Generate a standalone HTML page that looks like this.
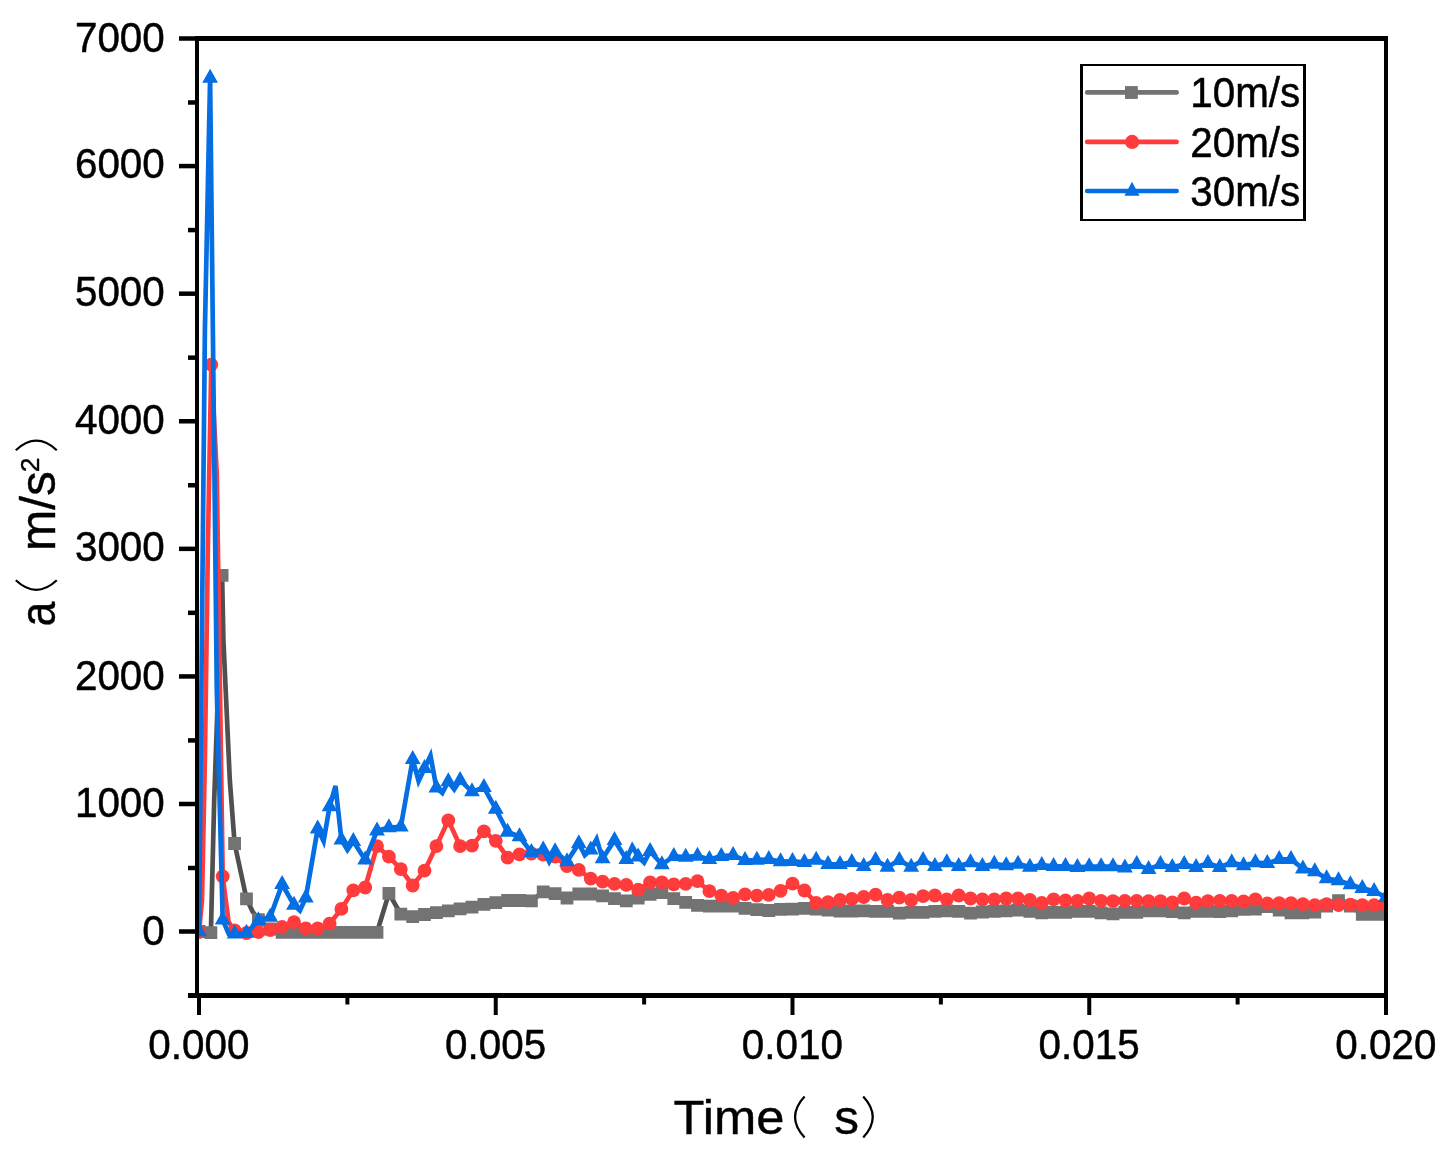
<!DOCTYPE html>
<html><head><meta charset="utf-8"><title>chart</title>
<style>html,body{margin:0;padding:0;background:#fff;}body{width:1455px;height:1157px;overflow:hidden;position:relative;font-family:"Liberation Sans",sans-serif;}svg{position:absolute;left:0;top:0;will-change:transform}</style>
</head><body>
<svg width="1455" height="1157" viewBox="0 0 1455 1157" style="display:block">
<rect x="0" y="0" width="1455" height="1157" fill="#ffffff"/>
<defs><clipPath id="plotclip"><rect x="197.2" y="38.4" width="1188.8" height="957.1"/></clipPath></defs>
<g clip-path="url(#plotclip)">
<polyline fill="none" stroke="#505050" stroke-width="4.7" stroke-linejoin="miter" points="199.0,931.5 210.9,932.6 214.2,800.0 222.1,575.3 223.4,640.0 229.8,780.0 234.6,843.5 246.5,898.8 252.6,911.5 258.4,919.6 270.2,929.0 282.1,932.4 294.0,932.4 305.8,932.4 317.7,932.4 329.6,932.4 341.4,932.4 353.3,932.4 365.2,932.4 377.0,932.4 388.9,893.4 400.8,914.2 412.7,916.7 424.5,914.5 436.4,912.6 448.3,910.9 460.1,908.8 472.0,907.2 483.9,904.4 495.8,902.6 507.6,900.5 519.5,900.5 531.4,900.9 543.2,891.8 555.1,893.6 567.0,898.0 578.8,894.0 590.7,894.0 602.6,895.8 614.5,898.7 626.3,900.9 638.2,898.0 650.1,894.3 661.9,892.7 673.8,898.7 685.7,902.4 697.5,905.3 709.4,906.1 721.3,906.1 733.1,906.1 745.0,908.3 756.9,909.7 768.8,910.5 780.6,909.4 792.5,909.1 804.4,908.4 816.2,909.0 828.1,910.2 840.0,911.2 851.8,911.0 863.7,910.9 875.6,911.4 887.5,911.4 899.3,913.2 911.2,912.4 923.1,912.4 934.9,911.4 946.8,910.9 958.7,911.4 970.5,913.2 982.4,912.0 994.3,911.4 1006.2,910.9 1018.0,910.1 1029.9,911.4 1041.8,912.9 1053.6,912.4 1065.5,912.4 1077.4,911.4 1089.2,911.4 1101.1,912.9 1113.0,913.9 1124.9,912.4 1136.7,912.4 1148.6,910.9 1160.5,910.9 1172.3,911.7 1184.2,912.9 1196.1,911.4 1207.9,911.4 1219.8,911.7 1231.7,910.9 1243.6,909.4 1255.4,909.2 1267.3,906.5 1279.2,910.1 1291.0,912.9 1302.9,912.9 1314.8,912.2 1326.6,906.0 1338.5,900.7 1350.4,906.0 1362.3,914.3 1374.1,914.3 1386.0,914.3"/>
<path fill="#737373" d="M192.6 925.1h12.8v12.8h-12.8zM204.5 926.2h12.8v12.8h-12.8zM215.7 568.9h12.8v12.8h-12.8zM228.2 837.1h12.8v12.8h-12.8zM240.1 892.4h12.8v12.8h-12.8zM252.0 913.2h12.8v12.8h-12.8zM263.8 922.6h12.8v12.8h-12.8zM275.7 926.0h12.8v12.8h-12.8zM287.6 926.0h12.8v12.8h-12.8zM299.4 926.0h12.8v12.8h-12.8zM311.3 926.0h12.8v12.8h-12.8zM323.2 926.0h12.8v12.8h-12.8zM335.0 926.0h12.8v12.8h-12.8zM346.9 926.0h12.8v12.8h-12.8zM358.8 926.0h12.8v12.8h-12.8zM370.6 926.0h12.8v12.8h-12.8zM382.5 887.0h12.8v12.8h-12.8zM394.4 907.8h12.8v12.8h-12.8zM406.3 910.3h12.8v12.8h-12.8zM418.1 908.1h12.8v12.8h-12.8zM430.0 906.2h12.8v12.8h-12.8zM441.9 904.5h12.8v12.8h-12.8zM453.7 902.4h12.8v12.8h-12.8zM465.6 900.8h12.8v12.8h-12.8zM477.5 898.0h12.8v12.8h-12.8zM489.4 896.2h12.8v12.8h-12.8zM501.2 894.1h12.8v12.8h-12.8zM513.1 894.1h12.8v12.8h-12.8zM525.0 894.5h12.8v12.8h-12.8zM536.8 885.4h12.8v12.8h-12.8zM548.7 887.2h12.8v12.8h-12.8zM560.6 891.6h12.8v12.8h-12.8zM572.4 887.6h12.8v12.8h-12.8zM584.3 887.6h12.8v12.8h-12.8zM596.2 889.4h12.8v12.8h-12.8zM608.1 892.3h12.8v12.8h-12.8zM619.9 894.5h12.8v12.8h-12.8zM631.8 891.6h12.8v12.8h-12.8zM643.7 887.9h12.8v12.8h-12.8zM655.5 886.3h12.8v12.8h-12.8zM667.4 892.3h12.8v12.8h-12.8zM679.3 896.0h12.8v12.8h-12.8zM691.1 898.9h12.8v12.8h-12.8zM703.0 899.7h12.8v12.8h-12.8zM714.9 899.7h12.8v12.8h-12.8zM726.8 899.7h12.8v12.8h-12.8zM738.6 901.9h12.8v12.8h-12.8zM750.5 903.3h12.8v12.8h-12.8zM762.4 904.1h12.8v12.8h-12.8zM774.2 903.0h12.8v12.8h-12.8zM786.1 902.7h12.8v12.8h-12.8zM798.0 902.0h12.8v12.8h-12.8zM809.8 902.6h12.8v12.8h-12.8zM821.7 903.8h12.8v12.8h-12.8zM833.6 904.8h12.8v12.8h-12.8zM845.4 904.6h12.8v12.8h-12.8zM857.3 904.5h12.8v12.8h-12.8zM869.2 905.0h12.8v12.8h-12.8zM881.1 905.0h12.8v12.8h-12.8zM892.9 906.8h12.8v12.8h-12.8zM904.8 906.0h12.8v12.8h-12.8zM916.7 906.0h12.8v12.8h-12.8zM928.5 905.0h12.8v12.8h-12.8zM940.4 904.5h12.8v12.8h-12.8zM952.3 905.0h12.8v12.8h-12.8zM964.1 906.8h12.8v12.8h-12.8zM976.0 905.6h12.8v12.8h-12.8zM987.9 905.0h12.8v12.8h-12.8zM999.8 904.5h12.8v12.8h-12.8zM1011.6 903.7h12.8v12.8h-12.8zM1023.5 905.0h12.8v12.8h-12.8zM1035.4 906.5h12.8v12.8h-12.8zM1047.2 906.0h12.8v12.8h-12.8zM1059.1 906.0h12.8v12.8h-12.8zM1071.0 905.0h12.8v12.8h-12.8zM1082.8 905.0h12.8v12.8h-12.8zM1094.7 906.5h12.8v12.8h-12.8zM1106.6 907.5h12.8v12.8h-12.8zM1118.5 906.0h12.8v12.8h-12.8zM1130.3 906.0h12.8v12.8h-12.8zM1142.2 904.5h12.8v12.8h-12.8zM1154.1 904.5h12.8v12.8h-12.8zM1165.9 905.3h12.8v12.8h-12.8zM1177.8 906.5h12.8v12.8h-12.8zM1189.7 905.0h12.8v12.8h-12.8zM1201.5 905.0h12.8v12.8h-12.8zM1213.4 905.3h12.8v12.8h-12.8zM1225.3 904.5h12.8v12.8h-12.8zM1237.2 903.0h12.8v12.8h-12.8zM1249.0 902.8h12.8v12.8h-12.8zM1260.9 900.1h12.8v12.8h-12.8zM1272.8 903.7h12.8v12.8h-12.8zM1284.6 906.5h12.8v12.8h-12.8zM1296.5 906.5h12.8v12.8h-12.8zM1308.4 905.8h12.8v12.8h-12.8zM1320.2 899.6h12.8v12.8h-12.8zM1332.1 894.3h12.8v12.8h-12.8zM1344.0 899.6h12.8v12.8h-12.8zM1355.9 907.9h12.8v12.8h-12.8zM1367.7 907.9h12.8v12.8h-12.8zM1379.6 907.9h12.8v12.8h-12.8z"/>
<polyline fill="none" stroke="#FF3B3B" stroke-width="4.7" stroke-linejoin="round" points="199.0,932.0 202.0,900.0 204.9,758.0 207.9,545.0 211.3,364.7 216.8,475.0 222.7,876.3 228.6,922.0 234.6,930.5 246.5,933.0 258.4,932.0 270.2,930.2 282.1,926.8 294.0,922.1 305.8,928.3 317.7,928.3 329.6,923.7 341.4,908.9 353.3,890.3 365.2,887.5 377.0,846.1 388.9,856.7 400.8,869.1 412.7,885.5 424.5,870.7 436.4,846.1 448.3,820.3 460.1,846.1 472.0,845.7 483.9,831.3 495.8,840.8 507.6,857.6 519.5,854.3 531.4,853.5 543.2,854.5 555.1,856.7 567.0,866.2 578.8,869.9 590.7,878.7 602.6,881.7 614.5,883.9 626.3,884.9 638.2,889.7 650.1,882.4 661.9,882.4 673.8,884.3 685.7,883.8 697.5,881.2 709.4,891.2 721.3,895.6 733.1,897.8 745.0,894.4 756.9,895.6 768.8,894.9 780.6,890.8 792.5,883.6 804.4,890.5 816.2,903.0 828.1,902.2 840.0,900.0 851.8,898.9 863.7,897.0 875.6,894.7 887.5,900.0 899.3,897.7 911.2,900.0 923.1,896.2 934.9,895.5 946.8,899.3 958.7,895.5 970.5,898.5 982.4,899.3 994.3,899.3 1006.2,898.5 1018.0,898.5 1029.9,900.0 1041.8,903.0 1053.6,899.3 1065.5,900.5 1077.4,900.8 1089.2,898.5 1101.1,900.8 1113.0,901.2 1124.9,900.8 1136.7,900.8 1148.6,901.2 1160.5,901.2 1172.3,902.3 1184.2,898.5 1196.1,902.7 1207.9,901.2 1219.8,900.8 1231.7,900.8 1243.6,901.5 1255.4,899.5 1267.3,903.4 1279.2,903.1 1291.0,903.1 1302.9,904.2 1314.8,905.2 1326.6,904.2 1338.5,905.2 1350.4,904.7 1362.3,905.2 1374.1,905.2 1386.0,905.2"/>
<g fill="#FF3B3B"><circle cx="199.0" cy="932.0" r="6.9"/><circle cx="211.3" cy="364.7" r="6.9"/><circle cx="222.7" cy="876.3" r="6.9"/><circle cx="234.6" cy="930.5" r="6.9"/><circle cx="246.5" cy="933.0" r="6.9"/><circle cx="258.4" cy="932.0" r="6.9"/><circle cx="270.2" cy="930.2" r="6.9"/><circle cx="282.1" cy="926.8" r="6.9"/><circle cx="294.0" cy="922.1" r="6.9"/><circle cx="305.8" cy="928.3" r="6.9"/><circle cx="317.7" cy="928.3" r="6.9"/><circle cx="329.6" cy="923.7" r="6.9"/><circle cx="341.4" cy="908.9" r="6.9"/><circle cx="353.3" cy="890.3" r="6.9"/><circle cx="365.2" cy="887.5" r="6.9"/><circle cx="377.0" cy="846.1" r="6.9"/><circle cx="388.9" cy="856.7" r="6.9"/><circle cx="400.8" cy="869.1" r="6.9"/><circle cx="412.7" cy="885.5" r="6.9"/><circle cx="424.5" cy="870.7" r="6.9"/><circle cx="436.4" cy="846.1" r="6.9"/><circle cx="448.3" cy="820.3" r="6.9"/><circle cx="460.1" cy="846.1" r="6.9"/><circle cx="472.0" cy="845.7" r="6.9"/><circle cx="483.9" cy="831.3" r="6.9"/><circle cx="495.8" cy="840.8" r="6.9"/><circle cx="507.6" cy="857.6" r="6.9"/><circle cx="519.5" cy="854.3" r="6.9"/><circle cx="531.4" cy="853.5" r="6.9"/><circle cx="543.2" cy="854.5" r="6.9"/><circle cx="555.1" cy="856.7" r="6.9"/><circle cx="567.0" cy="866.2" r="6.9"/><circle cx="578.8" cy="869.9" r="6.9"/><circle cx="590.7" cy="878.7" r="6.9"/><circle cx="602.6" cy="881.7" r="6.9"/><circle cx="614.5" cy="883.9" r="6.9"/><circle cx="626.3" cy="884.9" r="6.9"/><circle cx="638.2" cy="889.7" r="6.9"/><circle cx="650.1" cy="882.4" r="6.9"/><circle cx="661.9" cy="882.4" r="6.9"/><circle cx="673.8" cy="884.3" r="6.9"/><circle cx="685.7" cy="883.8" r="6.9"/><circle cx="697.5" cy="881.2" r="6.9"/><circle cx="709.4" cy="891.2" r="6.9"/><circle cx="721.3" cy="895.6" r="6.9"/><circle cx="733.1" cy="897.8" r="6.9"/><circle cx="745.0" cy="894.4" r="6.9"/><circle cx="756.9" cy="895.6" r="6.9"/><circle cx="768.8" cy="894.9" r="6.9"/><circle cx="780.6" cy="890.8" r="6.9"/><circle cx="792.5" cy="883.6" r="6.9"/><circle cx="804.4" cy="890.5" r="6.9"/><circle cx="816.2" cy="903.0" r="6.9"/><circle cx="828.1" cy="902.2" r="6.9"/><circle cx="840.0" cy="900.0" r="6.9"/><circle cx="851.8" cy="898.9" r="6.9"/><circle cx="863.7" cy="897.0" r="6.9"/><circle cx="875.6" cy="894.7" r="6.9"/><circle cx="887.5" cy="900.0" r="6.9"/><circle cx="899.3" cy="897.7" r="6.9"/><circle cx="911.2" cy="900.0" r="6.9"/><circle cx="923.1" cy="896.2" r="6.9"/><circle cx="934.9" cy="895.5" r="6.9"/><circle cx="946.8" cy="899.3" r="6.9"/><circle cx="958.7" cy="895.5" r="6.9"/><circle cx="970.5" cy="898.5" r="6.9"/><circle cx="982.4" cy="899.3" r="6.9"/><circle cx="994.3" cy="899.3" r="6.9"/><circle cx="1006.2" cy="898.5" r="6.9"/><circle cx="1018.0" cy="898.5" r="6.9"/><circle cx="1029.9" cy="900.0" r="6.9"/><circle cx="1041.8" cy="903.0" r="6.9"/><circle cx="1053.6" cy="899.3" r="6.9"/><circle cx="1065.5" cy="900.5" r="6.9"/><circle cx="1077.4" cy="900.8" r="6.9"/><circle cx="1089.2" cy="898.5" r="6.9"/><circle cx="1101.1" cy="900.8" r="6.9"/><circle cx="1113.0" cy="901.2" r="6.9"/><circle cx="1124.9" cy="900.8" r="6.9"/><circle cx="1136.7" cy="900.8" r="6.9"/><circle cx="1148.6" cy="901.2" r="6.9"/><circle cx="1160.5" cy="901.2" r="6.9"/><circle cx="1172.3" cy="902.3" r="6.9"/><circle cx="1184.2" cy="898.5" r="6.9"/><circle cx="1196.1" cy="902.7" r="6.9"/><circle cx="1207.9" cy="901.2" r="6.9"/><circle cx="1219.8" cy="900.8" r="6.9"/><circle cx="1231.7" cy="900.8" r="6.9"/><circle cx="1243.6" cy="901.5" r="6.9"/><circle cx="1255.4" cy="899.5" r="6.9"/><circle cx="1267.3" cy="903.4" r="6.9"/><circle cx="1279.2" cy="903.1" r="6.9"/><circle cx="1291.0" cy="903.1" r="6.9"/><circle cx="1302.9" cy="904.2" r="6.9"/><circle cx="1314.8" cy="905.2" r="6.9"/><circle cx="1326.6" cy="904.2" r="6.9"/><circle cx="1338.5" cy="905.2" r="6.9"/><circle cx="1350.4" cy="904.7" r="6.9"/><circle cx="1362.3" cy="905.2" r="6.9"/><circle cx="1374.1" cy="905.2" r="6.9"/><circle cx="1386.0" cy="905.2" r="6.9"/></g>
<polyline fill="none" stroke="#056EE3" stroke-width="4.7" stroke-linejoin="miter" points="199.0,931.5 204.9,330.0 210.1,78.1 216.8,690.0 222.7,919.8 228.7,933.8 234.6,933.8 246.5,933.0 258.4,920.5 270.2,917.1 282.1,884.4 294.0,905.0 299.9,910.5 305.8,897.7 317.7,828.8 323.6,841.2 329.6,806.5 335.5,786.0 341.4,839.7 347.4,849.8 353.3,841.3 365.2,859.9 377.0,830.8 388.9,827.5 400.8,826.9 412.7,759.3 418.6,781.2 424.5,768.4 430.5,755.7 436.4,787.7 442.3,793.0 448.3,781.5 454.2,789.4 460.1,780.3 472.0,791.6 483.9,787.4 495.8,809.0 507.6,832.0 519.5,836.5 531.4,852.4 543.2,849.8 549.2,861.8 555.1,851.5 567.0,861.5 578.8,843.5 584.8,855.2 590.7,849.8 596.6,839.0 602.6,858.6 614.5,840.2 626.3,859.3 632.3,846.4 638.2,856.7 644.1,862.6 650.1,851.3 661.9,864.5 673.8,856.4 685.7,857.1 697.5,856.0 709.4,859.4 721.3,856.2 733.1,855.4 745.0,860.4 756.9,860.1 768.8,859.4 780.6,861.6 792.5,861.3 804.4,862.3 816.2,860.1 828.1,864.3 840.0,864.3 851.8,862.4 863.7,866.3 875.6,860.2 887.5,867.0 899.3,860.2 911.2,867.0 923.1,860.2 934.9,866.3 946.8,862.5 958.7,866.3 970.5,862.5 982.4,866.3 994.3,864.0 1006.2,865.5 1018.0,864.0 1029.9,867.0 1041.8,865.2 1053.6,866.3 1065.5,866.3 1077.4,867.3 1089.2,866.6 1101.1,866.6 1113.0,866.6 1124.9,867.8 1136.7,864.4 1148.6,869.3 1160.5,864.4 1172.3,867.3 1184.2,864.4 1196.1,867.3 1207.9,863.2 1219.8,867.3 1231.7,862.5 1243.6,865.5 1255.4,862.6 1267.3,863.4 1279.2,859.4 1291.0,859.4 1302.9,868.7 1314.8,871.5 1326.6,878.5 1338.5,880.5 1350.4,884.5 1362.3,888.4 1374.1,891.2 1386.0,897.4"/>
<path fill="#056EE3" d="M199.0 922.2l7.9 14h-15.8zM210.1 68.8l7.9 14h-15.8zM222.7 910.5l7.9 14h-15.8zM234.6 924.5l7.9 14h-15.8zM246.5 923.7l7.9 14h-15.8zM258.4 911.2l7.9 14h-15.8zM270.2 907.8l7.9 14h-15.8zM282.1 875.1l7.9 14h-15.8zM294.0 895.7l7.9 14h-15.8zM305.8 888.4l7.9 14h-15.8zM317.7 819.5l7.9 14h-15.8zM329.6 797.2l7.9 14h-15.8zM341.4 830.4l7.9 14h-15.8zM353.3 832.0l7.9 14h-15.8zM365.2 850.5l7.9 14h-15.8zM377.0 821.5l7.9 14h-15.8zM388.9 818.2l7.9 14h-15.8zM400.8 817.6l7.9 14h-15.8zM412.7 750.0l7.9 14h-15.8zM424.5 759.1l7.9 14h-15.8zM436.4 778.4l7.9 14h-15.8zM448.3 772.2l7.9 14h-15.8zM460.1 771.0l7.9 14h-15.8zM472.0 782.3l7.9 14h-15.8zM483.9 778.1l7.9 14h-15.8zM495.8 799.7l7.9 14h-15.8zM507.6 822.7l7.9 14h-15.8zM519.5 827.2l7.9 14h-15.8zM531.4 843.1l7.9 14h-15.8zM543.2 840.5l7.9 14h-15.8zM555.1 842.2l7.9 14h-15.8zM567.0 852.2l7.9 14h-15.8zM578.8 834.2l7.9 14h-15.8zM590.7 840.5l7.9 14h-15.8zM602.6 849.3l7.9 14h-15.8zM614.5 830.9l7.9 14h-15.8zM626.3 850.0l7.9 14h-15.8zM638.2 847.4l7.9 14h-15.8zM650.1 842.0l7.9 14h-15.8zM661.9 855.2l7.9 14h-15.8zM673.8 847.1l7.9 14h-15.8zM685.7 847.8l7.9 14h-15.8zM697.5 846.7l7.9 14h-15.8zM709.4 850.1l7.9 14h-15.8zM721.3 846.9l7.9 14h-15.8zM733.1 846.1l7.9 14h-15.8zM745.0 851.1l7.9 14h-15.8zM756.9 850.8l7.9 14h-15.8zM768.8 850.1l7.9 14h-15.8zM780.6 852.3l7.9 14h-15.8zM792.5 852.0l7.9 14h-15.8zM804.4 853.0l7.9 14h-15.8zM816.2 850.8l7.9 14h-15.8zM828.1 855.0l7.9 14h-15.8zM840.0 855.0l7.9 14h-15.8zM851.8 853.1l7.9 14h-15.8zM863.7 857.0l7.9 14h-15.8zM875.6 850.9l7.9 14h-15.8zM887.5 857.7l7.9 14h-15.8zM899.3 850.9l7.9 14h-15.8zM911.2 857.7l7.9 14h-15.8zM923.1 850.9l7.9 14h-15.8zM934.9 857.0l7.9 14h-15.8zM946.8 853.2l7.9 14h-15.8zM958.7 857.0l7.9 14h-15.8zM970.5 853.2l7.9 14h-15.8zM982.4 857.0l7.9 14h-15.8zM994.3 854.7l7.9 14h-15.8zM1006.2 856.2l7.9 14h-15.8zM1018.0 854.7l7.9 14h-15.8zM1029.9 857.7l7.9 14h-15.8zM1041.8 855.9l7.9 14h-15.8zM1053.6 857.0l7.9 14h-15.8zM1065.5 857.0l7.9 14h-15.8zM1077.4 858.0l7.9 14h-15.8zM1089.2 857.3l7.9 14h-15.8zM1101.1 857.3l7.9 14h-15.8zM1113.0 857.3l7.9 14h-15.8zM1124.9 858.5l7.9 14h-15.8zM1136.7 855.1l7.9 14h-15.8zM1148.6 860.0l7.9 14h-15.8zM1160.5 855.1l7.9 14h-15.8zM1172.3 858.0l7.9 14h-15.8zM1184.2 855.1l7.9 14h-15.8zM1196.1 858.0l7.9 14h-15.8zM1207.9 853.9l7.9 14h-15.8zM1219.8 858.0l7.9 14h-15.8zM1231.7 853.2l7.9 14h-15.8zM1243.6 856.2l7.9 14h-15.8zM1255.4 853.3l7.9 14h-15.8zM1267.3 854.1l7.9 14h-15.8zM1279.2 850.1l7.9 14h-15.8zM1291.0 850.1l7.9 14h-15.8zM1302.9 859.4l7.9 14h-15.8zM1314.8 862.2l7.9 14h-15.8zM1326.6 869.2l7.9 14h-15.8zM1338.5 871.2l7.9 14h-15.8zM1350.4 875.2l7.9 14h-15.8zM1362.3 879.1l7.9 14h-15.8zM1374.1 881.9l7.9 14h-15.8zM1386.0 888.1l7.9 14h-15.8z"/>
</g>
<g fill="#000" shape-rendering="crispEdges">
<rect x="195" y="36" width="4" height="962"/>
<rect x="1384" y="36" width="4" height="962"/>
<rect x="195" y="36" width="1193" height="5"/>
<rect x="195" y="993" width="1193" height="5"/>
</g>
<g stroke="#000" fill="none" stroke-linecap="butt">
<line x1="179" y1="804.01" x2="196" y2="804.01" stroke-width="4.5"/>
<line x1="179" y1="676.43" x2="196" y2="676.43" stroke-width="4.5"/>
<line x1="179" y1="548.84" x2="196" y2="548.84" stroke-width="4.5"/>
<line x1="179" y1="421.26" x2="196" y2="421.26" stroke-width="4.5"/>
<line x1="179" y1="293.67" x2="196" y2="293.67" stroke-width="4.5"/>
<line x1="179" y1="166.08" x2="196" y2="166.08" stroke-width="4.5"/>
<line x1="179" y1="38.50" x2="196" y2="38.50" stroke-width="4.5"/>
<line x1="179" y1="931.50" x2="196" y2="931.50" stroke-width="4.5"/>
<line x1="188" y1="868.01" x2="196" y2="868.01" stroke-width="4.5"/>
<line x1="188" y1="740.42" x2="196" y2="740.42" stroke-width="4.5"/>
<line x1="188" y1="612.83" x2="196" y2="612.83" stroke-width="4.5"/>
<line x1="188" y1="485.25" x2="196" y2="485.25" stroke-width="4.5"/>
<line x1="188" y1="357.66" x2="196" y2="357.66" stroke-width="4.5"/>
<line x1="188" y1="230.08" x2="196" y2="230.08" stroke-width="4.5"/>
<line x1="188" y1="102.49" x2="196" y2="102.49" stroke-width="4.5"/>
<rect x="188" y="993" width="8" height="5" fill="#000" stroke="none" shape-rendering="crispEdges"/>
<line x1="199.00" y1="995.5" x2="199.00" y2="1015" stroke-width="4"/>
<line x1="495.75" y1="995.5" x2="495.75" y2="1015" stroke-width="4"/>
<line x1="792.50" y1="995.5" x2="792.50" y2="1015" stroke-width="4"/>
<line x1="1089.25" y1="995.5" x2="1089.25" y2="1015" stroke-width="4"/>
<line x1="1386.00" y1="995.5" x2="1386.00" y2="1015" stroke-width="4"/>
<line x1="347.38" y1="995.5" x2="347.38" y2="1004.5" stroke-width="4"/>
<line x1="644.12" y1="995.5" x2="644.12" y2="1004.5" stroke-width="4"/>
<line x1="940.88" y1="995.5" x2="940.88" y2="1004.5" stroke-width="4"/>
<line x1="1237.62" y1="995.5" x2="1237.62" y2="1004.5" stroke-width="4"/>
</g>
<g font-family="Liberation Sans, sans-serif" font-size="40.4" fill="#000" stroke="#000" stroke-width="0.5">
<text transform="translate(164.8,944.90) scale(1.0,1.075)" text-anchor="end">0</text>
<text transform="translate(164.8,816.61) scale(1.0,1.075)" text-anchor="end">1000</text>
<text transform="translate(164.8,689.53) scale(1.0,1.075)" text-anchor="end">2000</text>
<text transform="translate(164.8,560.74) scale(1.0,1.075)" text-anchor="end">3000</text>
<text transform="translate(164.8,433.56) scale(1.0,1.075)" text-anchor="end">4000</text>
<text transform="translate(164.8,305.77) scale(1.0,1.075)" text-anchor="end">5000</text>
<text transform="translate(164.8,178.38) scale(1.0,1.075)" text-anchor="end">6000</text>
<text transform="translate(164.8,52.10) scale(1.0,1.075)" text-anchor="end">7000</text>
<text transform="translate(198.80,1058.8) scale(1.0,1.075)" text-anchor="middle">0.000</text>
<text transform="translate(495.55,1058.8) scale(1.0,1.075)" text-anchor="middle">0.005</text>
<text transform="translate(792.30,1058.8) scale(1.0,1.075)" text-anchor="middle">0.010</text>
<text transform="translate(1089.05,1058.8) scale(1.0,1.075)" text-anchor="middle">0.015</text>
<text transform="translate(1385.80,1058.8) scale(1.0,1.075)" text-anchor="middle">0.020</text>
</g>
<g font-family="Liberation Sans, sans-serif" font-size="49.5" fill="#000" stroke="#000" stroke-width="0.4">
<text transform="translate(673.6,1134) scale(1.025,0.99)">Time</text>
<text transform="translate(834.2,1134) scale(1.0,0.99)">s</text>
</g>
<g stroke="#000" stroke-width="2.2" fill="none" stroke-linecap="butt">
<path d="M804.6 1096.5 Q785.5 1117 804.6 1137.5"/>
<path d="M863.2 1096.5 Q882.3 1117 863.2 1137.5"/>
</g>
<g transform="translate(55.3,0) rotate(-90)" font-family="Liberation Sans, sans-serif" font-size="49.5" fill="#000" stroke="#000" stroke-width="0.4">
<text transform="translate(-626.4,0) scale(0.9,1)">a</text>
<text x="-551.0" y="0">m/s</text>
<text x="-472.3" y="-16.3" font-size="26.5">2</text>
</g>
<g stroke="#000" stroke-width="2.2" fill="none" stroke-linecap="butt">
<path d="M15.8 580.3 Q36.3 599.4 56.8 580.3"/>
<path d="M15.8 450.2 Q36.3 431.1 56.8 450.2"/>
</g>
<g shape-rendering="crispEdges"><rect x="1080" y="64" width="226" height="157" fill="#000"/><rect x="1083" y="66" width="220" height="153" fill="#fff"/></g>
<g stroke-linecap="round" stroke-width="4.7" fill="none">
<line x1="1087.2" y1="92.4" x2="1176.6" y2="92.4" stroke="#737373"/>
<line x1="1087.2" y1="141.9" x2="1176.6" y2="141.9" stroke="#FF3B3B"/>
<line x1="1087.2" y1="191" x2="1176.6" y2="191" stroke="#056EE3"/>
</g>
<rect x="1125" y="86.1" width="12.8" height="12.8" fill="#737373"/>
<circle cx="1132.1" cy="141.9" r="7.1" fill="#FF3B3B"/>
<path d="M1132.0 181.8 L1139.6 195.8 L1124.4 195.8 Z" fill="#056EE3"/>
<g font-family="Liberation Sans, sans-serif" font-size="40.4" fill="#000" stroke="#000" stroke-width="0.5">
<text transform="translate(1190.2,107.3) scale(1.0,1.075)">10m/s</text>
<text transform="translate(1190.2,156.8) scale(1.0,1.075)">20m/s</text>
<text transform="translate(1190.2,205.9) scale(1.0,1.075)">30m/s</text>
</g>
</svg>
</body></html>
